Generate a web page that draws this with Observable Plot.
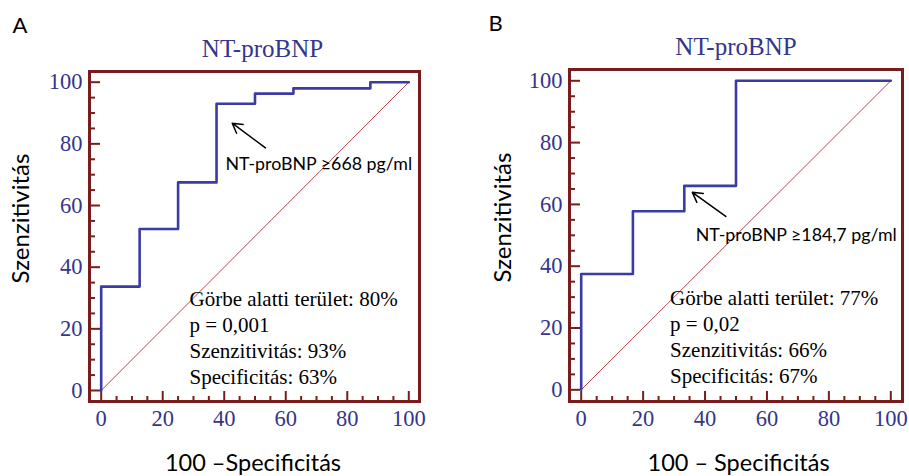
<!DOCTYPE html>
<html><head><meta charset="utf-8">
<script src="https://cdn.jsdelivr.net/npm/d3@7"></script>
<script src="https://cdn.jsdelivr.net/npm/@observablehq/plot@0.6"></script>
<style>
html,body{margin:0;padding:0;background:#fff}
#wrap{display:flex;width:909px;height:476px;overflow:hidden}
#wrap svg{display:block;overflow:visible}
</style></head><body><div id="wrap"></div>
<script>
// ROC curve A (100 - specificity, sensitivity)
const fprA = [0, 0, 12.5, 25, 37.5, 50, 62.5, 87.5, 100];
const tprA = [0, 33.7, 52.4, 67.5, 93, 96.3, 98, 100, 100];
// ROC curve B
const fprB = [0, 0, 16.7, 33.3, 50, 100];
const tprB = [0, 37.5, 57.8, 66, 100, 100];

const chanceLine = [0, 100];
const majorTicks = [0, 20, 40, 60, 80, 100];
const minorTicks = [5, 10, 15, 25, 30, 35, 45, 50, 55, 65, 70, 75, 85, 90, 95];

const panelLetters = ["A", "B"];
const chartTitle = "NT-proBNP";
const yTitle = "Szenzitivitás";
const xTitles = ["100 –Specificitás", "100 – Specificitás"];
const cutoffLabels = ["NT-proBNP ≥668 pg/ml", "NT-proBNP ≥184,7 pg/ml"];
const statsA = ["Görbe alatti terület: 80%", "p = 0,001", "Szenzitivitás: 93%", "Specificitás: 63%"];
const statsB = ["Görbe alatti terület: 77%", "p = 0,02", "Szenzitivitás: 66%", "Specificitás: 67%"];

// annotation anchors (data units)
const arrowA = {x1: 53.4, y1: 78.7, x2: 42.6, y2: 86.7};
const arrowB = {x1: 46.7, y1: 56.1, x2: 35.9, y2: 63.9};
const labelPosA = {x: 40.4, y: 73.5};
const labelPosB = {x: 37, y: 49.9};
const statsPos = {x: 28.7, y: 17.5};

const FRAME = "#7b1c1c";
const NAVY = "#35358a";
const CURVE = "#3b3ba6";
const SERIF = "'Liberation Serif', 'Times New Roman', serif";
const SANS = "Lato, Carlito, Calibri, sans-serif";

function panel(c) {
  const H = 476;
  const innerW = c.width - c.mL - c.mR;
  const innerH = H - c.mT - c.mB;
  const pts = c.fpr.map((x, i) => ({x, y: c.tpr[i]}));
  return Plot.plot({
    width: c.width, height: H,
    marginLeft: c.mL, marginRight: c.mR, marginTop: c.mT, marginBottom: c.mB,
    x: {domain: c.xDom}, y: {domain: c.yDom},
    style: {fontFamily: SERIF, background: "transparent", overflow: "visible"},
    marks: [
      Plot.line(chanceLine, {x: d => d, y: d => d, stroke: "#a8343a", strokeWidth: 0.9}),
      Plot.line(pts, {x: "x", y: "y", curve: "step-after", stroke: CURVE, strokeWidth: 2.6}),
      Plot.tickY(majorTicks, {y: d => d, stroke: FRAME, strokeWidth: 2, insetRight: innerW - 11}),
      Plot.tickY(minorTicks, {y: d => d, stroke: FRAME, strokeWidth: 2, insetRight: innerW - 6}),
      Plot.tickX(majorTicks, {x: d => d, stroke: FRAME, strokeWidth: 2, insetTop: innerH - 10}),
      Plot.tickX(minorTicks, {x: d => d, stroke: FRAME, strokeWidth: 2, insetTop: innerH - 5}),
      Plot.frame({stroke: FRAME, strokeWidth: 3}),
      Plot.axisY(majorTicks, {tickSize: 0, tickPadding: 7, fontSize: 22.5, color: NAVY, label: null, fontFamily: SERIF}),
      Plot.axisX(majorTicks, {tickSize: 0, tickPadding: 9, fontSize: 22.5, color: NAVY, label: null, fontFamily: SERIF}),
      Plot.text([chartTitle], {frameAnchor: "top", lineAnchor: "middle", dy: -23, dx: c.titleDx, fontSize: 25, fill: NAVY, fontFamily: SERIF}),
      Plot.text([c.letter], {frameAnchor: "top-left", textAnchor: "start", lineAnchor: "middle", dx: c.letterDx, dy: -46, fontSize: 22, fill: "#000", fontFamily: SANS}),
      Plot.text([yTitle], {frameAnchor: "left", rotate: -90, textAnchor: "middle", lineAnchor: "middle", dx: c.yTitleDx, dy: -18, fontSize: 24, fill: "#000", fontFamily: SANS}),
      Plot.text([c.xTitle], {frameAnchor: "bottom", textAnchor: "middle", lineAnchor: "middle", dx: c.xTitleDx, dy: 62, fontSize: 23.5, fill: "#000", fontFamily: SANS}),
      Plot.arrow([c.arrow], {x1: "x1", y1: "y1", x2: "x2", y2: "y2", stroke: "#000", strokeWidth: 1.5, headLength: 11}),
      Plot.text([c.cutoff], {x: c.labelPos.x, y: c.labelPos.y, textAnchor: "start", lineAnchor: "middle", fontSize: 17.8, fill: "#000", fontFamily: SANS}),
      Plot.text([c.stats.join("\n")], {x: statsPos.x, y: statsPos.y, textAnchor: "start", lineAnchor: "middle", lineHeight: 1.24, fontSize: 21, fill: "#000", fontFamily: SERIF})
    ]
  });
}

const wrap = document.getElementById("wrap");
wrap.appendChild(panel({
  width: 460, mL: 89, mR: 41, mT: 71, mB: 75,
  xDom: [-3.8, 103.48], yDom: [-3.57, 103.47],
  fpr: fprA, tpr: tprA, letter: panelLetters[0], xTitle: xTitles[0],
  cutoff: cutoffLabels[0], stats: statsA, arrow: arrowA, labelPos: labelPosA,
  titleDx: 8, letterDx: -77, yTitleDx: -68, xTitleDx: -1.5
}));
wrap.appendChild(panel({
  width: 449, mL: 109, mR: 7, mT: 69, mB: 75,
  xDom: [-3.78, 103.78], yDom: [-3.78, 103.66],
  fpr: fprB, tpr: tprB, letter: panelLetters[1], xTitle: xTitles[1],
  cutoff: cutoffLabels[1], stats: statsB, arrow: arrowB, labelPos: labelPosB,
  titleDx: 0, letterDx: -81, yTitleDx: -66, xTitleDx: 2.6
}));
</script>
</body></html>
